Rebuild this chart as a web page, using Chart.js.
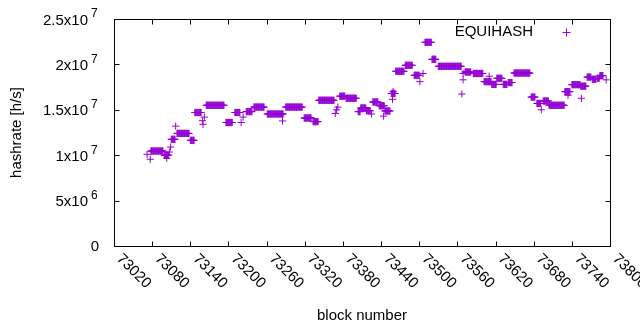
<!DOCTYPE html>
<html>
<head>
<meta charset="utf-8">
<script src="https://cdn.jsdelivr.net/npm/chart.js@4.4.1/dist/chart.umd.min.js"></script>
<style>
  html, body { margin: 0; padding: 0; background: #fff; }
  #wrap { width: 640px; height: 330px; }
</style>
</head>
<body>
<div id="wrap"><canvas id="chartHash" width="640" height="330"></canvas></div>
<script>
// runs of blocks that share the same hashrate estimate
var runFrom = [73078,73099,73110,73119,73140,73147,73165,73196,73210,73228,73240,73261,73290,73319,73333,
               73342,73375,73385,73404,73408,73417,73427,73437,73446,73456,73463,73478,73492,73509,73520,
               73530,73572,73585,73602,73614,73622,73632,73640,73649,73676,73685,73695,73704,73729,73740,
               73754,73764,73772,73780,73784];
var runTo   = [73097,73106,73116,73138,73146,73157,73193,73206,73218,73237,73256,73286,73316,73330,73341,
               73366,73383,73401,73407,73416,73423,73435,73445,73454,73462,73476,73489,73500,73519,73526,
               73566,73581,73600,73613,73621,73630,73638,73646,73674,73682,73691,73703,73728,73737,73753,
               73762,73770,73778,73783,73789];
var runHash = [1.046e7,1.0e7,1.175e7,1.24e7,1.164e7,1.47e7,1.55e7,1.36e7,1.47e7,1.48e7,1.53e7,1.454e7,1.53e7,1.41e7,1.37e7,
               1.605e7,1.65e7,1.627e7,1.48e7,1.52e7,1.49e7,1.586e7,1.545e7,1.487e7,1.68e7,1.924e7,1.99e7,1.88e7,2.243e7,2.056e7,
               1.979e7,1.916e7,1.9e7,1.81e7,1.78e7,1.847e7,1.78e7,1.8e7,1.905e7,1.64e7,1.57e7,1.597e7,1.55e7,1.7e7,1.777e7,
               1.76e7,1.86e7,1.836e7,1.847e7,1.876e7];

// isolated points between the runs
var singleBlock = [73072,73077,73103,73107,73109,73117,73159,73160,73162,73220,73223,73285,73368,73370,73372,
                   73425,73444,73458,73459,73501,73506,73567,73569,73569,73610,73692,73734,73755,73794];
var singleHash  = [1.01e7,9.55e6,9.66e6,1.035e7,1.09e7,1.32e7,1.38e7,1.34e7,1.42e7,1.36e7,1.42e7,1.377e7,1.46e7,1.5e7,1.53e7,
                   1.454e7,1.43e7,1.615e7,1.7e7,1.81e7,1.9e7,1.674e7,1.83e7,1.9e7,1.87e7,1.5e7,1.66e7,1.627e7,1.83e7];

// y tick labels, gnuplot style mantissa + superscript
var yTickMant = ['0','5x10','1x10','1.5x10','2x10','2.5x10'];
var yTickExp  = ['','6','7','7','7','7'];

var seriesName = 'EQUIHASH';
var purple = '#9400D3';
var FONT = '"Liberation Sans", Arial, sans-serif';

var points = [];
for (var i = 0; i < runFrom.length; i++) {
    for (var b = runFrom[i]; b <= runTo[i]; b++) {
        points.push({x: b, y: runHash[i]});
    }
}
for (var j = 0; j < singleBlock.length; j++) {
    points.push({x: singleBlock[j], y: singleHash[j]});
}

// border, inward ticks, tick labels and key like gnuplot
var gnuplotFrame = {
    id: 'gnuplotFrame',
    afterDraw: function(chart) {
        var ctx = chart.ctx;
        var a = chart.chartArea;
        var xs = chart.scales.x;
        var ys = chart.scales.y;
        var L = Math.round(a.left) + 0.5, R = Math.round(a.right) + 0.5;
        var T = Math.round(a.top) + 0.5, B = Math.round(a.bottom) + 0.5;
        ctx.save();
        ctx.strokeStyle = '#000';
        ctx.lineWidth = 1;
        ctx.beginPath();
        ctx.rect(L, T, R - L, B - T);
        xs.ticks.forEach(function(t) {
            var px = Math.round(xs.getPixelForValue(t.value)) + 0.5;
            ctx.moveTo(px, B); ctx.lineTo(px, B - 5);
            ctx.moveTo(px, T); ctx.lineTo(px, T + 5);
        });
        ys.ticks.forEach(function(t) {
            var py = Math.round(ys.getPixelForValue(t.value)) + 0.5;
            ctx.moveTo(L, py); ctx.lineTo(L + 5, py);
            ctx.moveTo(R, py); ctx.lineTo(R - 5, py);
        });
        ctx.stroke();

        ctx.fillStyle = '#000';
        // x labels, rotated -45 like gnuplot
        ctx.font = '15px ' + FONT;
        ctx.textAlign = 'left';
        ctx.textBaseline = 'middle';
        xs.ticks.forEach(function(t) {
            var px = xs.getPixelForValue(t.value);
            ctx.save();
            ctx.translate(px + 5, B + 10);
            ctx.rotate(Math.PI / 4);
            ctx.fillText(String(t.value), 0, 0);
            ctx.restore();
        });
        // y labels
        ys.ticks.forEach(function(t, k) {
            var py = ys.getPixelForValue(t.value);
            ctx.font = '15px ' + FONT;
            ctx.textAlign = 'right';
            if (yTickExp[k] === '') {
                ctx.fillText(yTickMant[k], a.left - 15, py + 1);
            } else {
                ctx.fillText(yTickMant[k], a.left - 26, py + 1.5);
                ctx.font = '12px ' + FONT;
                ctx.textAlign = 'left';
                ctx.fillText(yTickExp[k], a.left - 23, py - 5);
            }
        });
        // key
        ctx.font = '15px ' + FONT;
        ctx.textAlign = 'right';
        ctx.fillText(seriesName, a.right - 77, a.top + 13);
        ctx.strokeStyle = purple;
        ctx.beginPath();
        ctx.moveTo(a.right - 47.5, a.top + 13.5); ctx.lineTo(a.right - 39.5, a.top + 13.5);
        ctx.moveTo(a.right - 43.5, a.top + 9.5); ctx.lineTo(a.right - 43.5, a.top + 17.5);
        ctx.stroke();
        ctx.restore();
    }
};

Chart.defaults.font.family = FONT;
Chart.defaults.color = '#000';

var ctx_chart = document.getElementById('chartHash').getContext('2d');
var chart = new Chart(ctx_chart, {
    type: 'scatter',
    data: {
        datasets: [{
            label: seriesName,
            data: points,
            pointStyle: 'cross',
            pointRadius: 3.6,
            pointHoverRadius: 3.6,
            borderWidth: 1,
            borderColor: purple,
            backgroundColor: purple
        }]
    },
    options: {
        responsive: false,
        animation: false,
        devicePixelRatio: 1,
        events: [],
        layout: { padding: { top: 19, right: 30, left: 0, bottom: 0 } },
        plugins: {
            legend: { display: false },
            tooltip: { enabled: false }
        },
        scales: {
            x: {
                type: 'linear',
                min: 73020,
                max: 73800,
                ticks: { stepSize: 60, display: false },
                grid: { display: false },
                border: { display: false },
                title: { display: true, text: 'block number', font: { size: 15 }, padding: { top: 0, bottom: 5 } },
                afterFit: function(scale) { scale.height = 84; }
            },
            y: {
                min: 0,
                max: 2.5e7,
                ticks: { stepSize: 5e6, display: false },
                grid: { display: false },
                border: { display: false },
                title: { display: true, text: 'hashrate [h/s]', font: { size: 15 }, padding: { top: 8, bottom: 0 } },
                afterFit: function(scale) { scale.width = 114; }
            }
        }
    },
    plugins: [gnuplotFrame]
});
</script>
</body>
</html>
